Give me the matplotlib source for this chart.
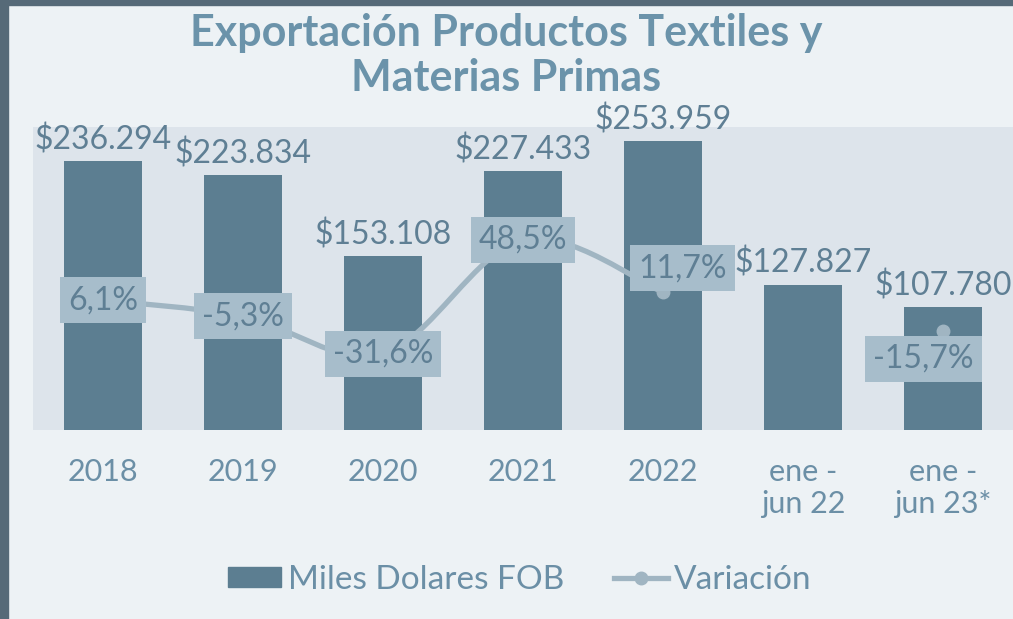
import matplotlib
matplotlib.use("Agg")
import matplotlib.pyplot as plt
import numpy as np
from matplotlib.patches import Rectangle, PathPatch
from matplotlib.path import Path
from matplotlib.lines import Line2D

# data
categorias = ["2018", "2019", "2020", "2021", "2022", "ene -\njun 22", "ene -\njun 23*"]
miles_fob = [236294, 223834, 153108, 227433, 253959, 127827, 107780]
variacion = [6.1, -5.3, -31.6, 48.5, 11.7, np.nan, -15.7]
etiquetas_fob = ["$236.294", "$223.834", "$153.108", "$227.433", "$253.959", "$127.827", "$107.780"]
etiquetas_var = ["6,1%", "-5,3%", "-31,6%", "48,5%", "11,7%", "", "-15,7%"]

# label offsets for the % boxes (points), like excel placed them
var_offsets = [(0, 0), (0, 0), (0, 0), (0, 0), (14, 17), (0, 0), (-14, -20)]

BG = "#edf2f5"
PLOT_BG = "#dde4eb"
BAR = "#5c7e91"
LINE = "#a0b5c2"
BOX = "#a7bdcb"
TXT = "#5f7f94"
TICK = "#6b8fa6"
TITLE = "#6b93aa"

plt.rcParams["font.family"] = ["Lato", "DejaVu Sans"]

fig = plt.figure(figsize=(10.13, 6.19), dpi=100, facecolor=BG)
ax = fig.add_axes([33 / 1013, 189 / 619, 980 / 1013, 303 / 619])
ax.set_facecolor(PLOT_BG)
x = np.arange(len(categorias))

ax.bar(x, miles_fob, width=0.557, color=BAR, zorder=2)
ax.set_xlim(-0.5, len(categorias) - 0.5)
ax.set_ylim(0, 266200)
for xi, v, lab in zip(x, miles_fob, etiquetas_fob):
    ax.annotate(lab, (xi, v), xytext=(0, 4), textcoords="offset points",
                ha="center", va="bottom", fontsize=23, color=TXT, zorder=5)

ax.set_xticks(x)
ax.set_xticklabels(categorias, fontsize=22, color=TICK, linespacing=1.2)
ax.tick_params(axis="x", length=0, pad=20)
ax.set_yticks([])
for s in ax.spines.values():
    s.set_visible(False)

ax2 = ax.twinx()
ax2.set_ylim(-85.2, 127.7)
ax2.set_yticks([])
for s in ax2.spines.values():
    s.set_visible(False)

# smoothed line like excel (bezier through the points)
def curva(xs, ys):
    pts = np.column_stack([xs, ys])
    verts = [pts[0]]
    codes = [Path.MOVETO]
    n = len(pts)
    for i in range(n - 1):
        p0 = pts[max(i - 1, 0)]
        p1 = pts[i]
        p2 = pts[i + 1]
        p3 = pts[min(i + 2, n - 1)]
        c1 = p1 + (p2 - p0) / 6
        c2 = p2 - (p3 - p1) / 6
        verts += [c1, c2, p2]
        codes += [Path.CURVE4] * 3
    return Path(verts, codes)

var = np.array(variacion)
idx = np.where(~np.isnan(var))[0]
grupos = np.split(idx, np.where(np.diff(idx) > 1)[0] + 1)
for g in grupos:
    if len(g) > 1:
        ax2.add_patch(PathPatch(curva(x[g], var[g]), fill=False, edgecolor=LINE,
                                lw=3.8, capstyle="round", zorder=3))
ax2.plot(x, var, linestyle="none", marker="o", markersize=9, color=LINE, zorder=3)

for xi, v, lab, off in zip(x, variacion, etiquetas_var, var_offsets):
    if lab:
        ax2.annotate(lab, (xi, v), xytext=off, textcoords="offset points",
                     ha="center", va="center", fontsize=23, color=TXT, zorder=6,
                     bbox=dict(boxstyle="square,pad=0.25", fc=BOX, ec="none"))

fig.text(0.5, 1 - 46 / 619, "Exportación Productos Textiles y", ha="center",
         va="baseline", fontsize=31, fontweight="bold", color=TITLE)
fig.text(0.5, 1 - 91 / 619, "Materias Primas", ha="center",
         va="baseline", fontsize=31, fontweight="bold", color=TITLE)

handles = [Rectangle((0, 0), 1, 1, color=BAR),
           Line2D([], [], color=LINE, lw=3.8, marker="o", markersize=9)]
fig.legend(handles, ["Miles Dolares FOB", "Variación"], loc="center",
           bbox_to_anchor=(520 / 1013, 1 - 580 / 619), ncol=2, frameon=False,
           prop={"size": 24}, labelcolor=TICK,
           handlelength=1.6, handleheight=0.55, handletextpad=0.2,
           columnspacing=1.5)

# dark frame edges
fig.add_artist(Rectangle((0, 0), 8 / 1013, 1, transform=fig.transFigure,
                         color="#566a78", zorder=10))
fig.add_artist(Rectangle((0, 1 - 5 / 619), 1, 5 / 619, transform=fig.transFigure,
                         color="#566a78", zorder=10))

fig.savefig("out.png", dpi=100, facecolor=BG)
